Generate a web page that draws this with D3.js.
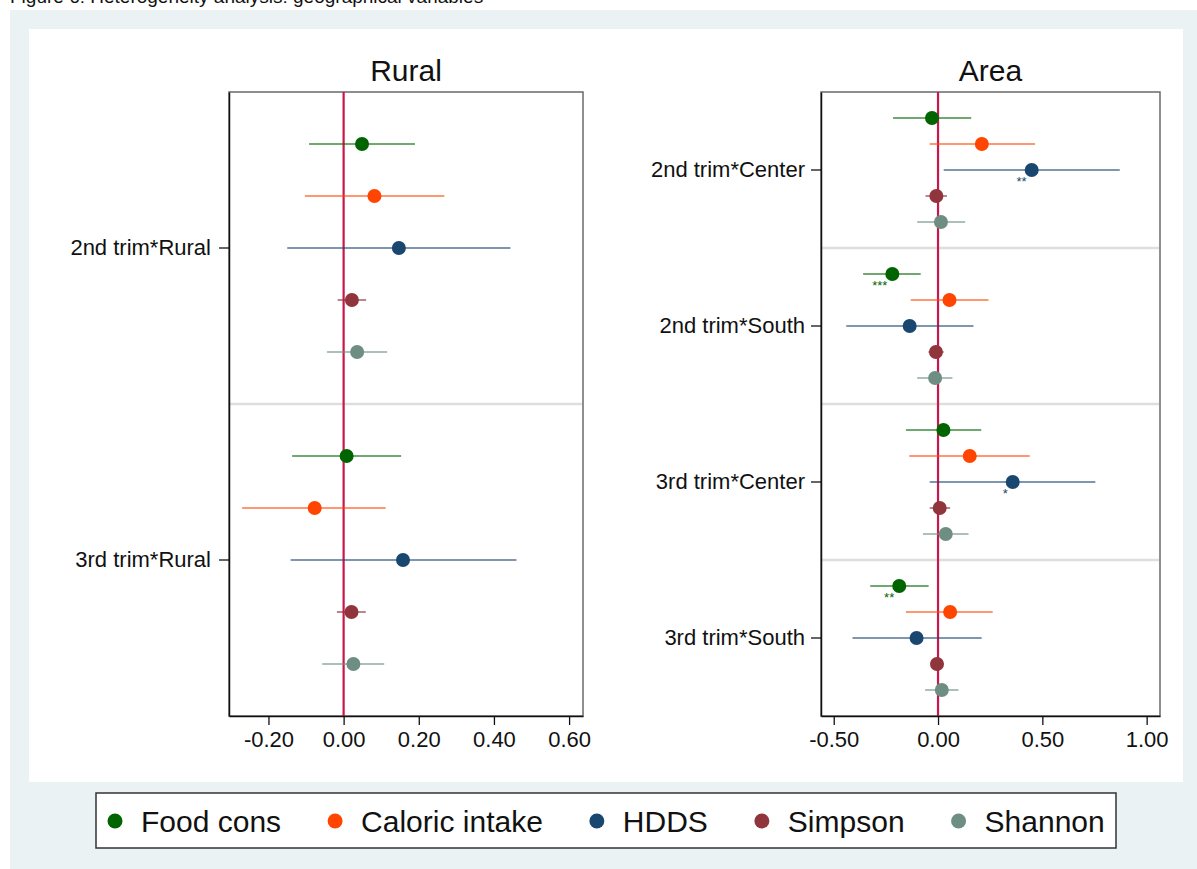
<!DOCTYPE html>
<html>
<head>
<meta charset="utf-8">
<script src="https://cdn.jsdelivr.net/npm/d3@7"></script>
<style>
  html, body { margin: 0; padding: 0; background: #fff; }
  svg { display: block; font-family: "Liberation Sans", Arial, sans-serif; }
</style>
</head>
<body>
<svg id="chart" width="1197" height="869"></svg>
<script>
// ---------- data ----------
const seriesNames = ["Food cons", "Caloric intake", "HDDS", "Simpson", "Shannon"];
const seriesColors = ["#006400", "#FF4500", "#1A476F", "#90353B", "#6E8E84"];

const ruralCats = ["2nd trim*Rural", "3rd trim*Rural"];
// rows: category, columns: series
const ruralCoef = [
  [0.049, 0.082, 0.147, 0.022, 0.036],
  [0.008, -0.077, 0.158, 0.021, 0.026]
];
const ruralLo = [
  [-0.092, -0.103, -0.150, -0.016, -0.044],
  [-0.137, -0.270, -0.141, -0.018, -0.057]
];
const ruralHi = [
  [0.190, 0.268, 0.444, 0.060, 0.116],
  [0.153, 0.112, 0.460, 0.059, 0.108]
];
const ruralStars = [
  ["", "", "", "", ""],
  ["", "", "", "", ""]
];

const areaCats = ["2nd trim*Center", "2nd trim*South", "3rd trim*Center", "3rd trim*South"];
const areaCoef = [
  [-0.029, 0.210, 0.449, -0.008, 0.014],
  [-0.219, 0.055, -0.136, -0.010, -0.014],
  [0.026, 0.152, 0.358, 0.008, 0.037],
  [-0.186, 0.058, -0.103, -0.005, 0.018]
];
const areaLo = [
  [-0.216, -0.040, 0.027, -0.060, -0.100],
  [-0.359, -0.131, -0.440, -0.046, -0.100],
  [-0.154, -0.138, -0.040, -0.040, -0.072],
  [-0.325, -0.154, -0.410, -0.035, -0.062]
];
const areaHi = [
  [0.159, 0.465, 0.871, 0.043, 0.130],
  [-0.083, 0.242, 0.170, 0.027, 0.069],
  [0.207, 0.440, 0.754, 0.058, 0.146],
  [-0.045, 0.262, 0.209, 0.027, 0.098]
];
const areaStars = [
  ["", "", "**", "", ""],
  ["***", "", "", "", ""],
  ["", "", "*", "", ""],
  ["**", "", "", "", ""]
];

const ruralTicks = [-0.2, 0, 0.2, 0.4, 0.6];
const areaTicks = [-0.5, 0, 0.5, 1.0];
const ruralDomain = [-0.305, 0.637];
const areaDomain = [-0.561, 1.064];

const captionText = "Figure 6: Heterogeneity analysis: geographical variables";

// ---------- drawing ----------
const svg = d3.select("#chart");
const FONT = '"Liberation Sans", Arial, sans-serif';

// outer background
svg.append("rect").attr("x", 10).attr("y", 10).attr("width", 1187).attr("height", 859).attr("fill", "#EAF2F3");
svg.append("rect").attr("x", 29).attr("y", 29).attr("width", 1154).attr("height", 753).attr("fill", "#ffffff");

// caption (cut off at top, as in the source)
svg.append("text").attr("x", 10).attr("y", 3).attr("font-size", 19).attr("fill", "#111")
  .text(captionText);

function panel(opts) {
  const { left, right, top, bottom, cats, coef, lo, hi, stars, ticks, domain, title, tickPad } = opts;
  const g = svg.append("g");
  const x = d3.scaleLinear().domain(domain).range([left, right]);
  const yBand = d3.scaleBand().domain(cats).range([top, bottom]).paddingInner(0).paddingOuter(0);
  const yInner = d3.scalePoint().domain(seriesNames).range([0, yBand.bandwidth()]).padding(1);

  // plot region border
  g.append("rect").attr("x", left).attr("y", top).attr("width", right - left).attr("height", bottom - top)
    .attr("fill", "#fff").attr("stroke", "#6a6a6a").attr("stroke-width", 1.5);

  // dividers between categories
  g.selectAll("line.div").data(cats.slice(1)).join("line")
    .attr("x1", left + 1).attr("x2", right - 1)
    .attr("y1", d => yBand(d)).attr("y2", d => yBand(d))
    .attr("stroke", "#dedede").attr("stroke-width", 2.5);

  // zero line
  g.append("line").attr("x1", x(0)).attr("x2", x(0)).attr("y1", top).attr("y2", bottom)
    .attr("stroke", "#C8174B").attr("stroke-width", 2.2);

  // rows
  const rows = [];
  cats.forEach((c, i) => {
    seriesNames.forEach((s, j) => {
      rows.push({ c, s, j, v: coef[i][j], lo: lo[i][j], hi: hi[i][j], star: stars[i][j] });
    });
  });
  const yOf = d => yBand(d.c) + yInner(d.s);

  g.selectAll("line.ci").data(rows).join("line")
    .attr("x1", d => x(d.lo)).attr("x2", d => x(d.hi))
    .attr("y1", yOf).attr("y2", yOf)
    .attr("stroke", d => seriesColors[d.j]).attr("stroke-opacity", 0.75).attr("stroke-width", 1.6);

  g.selectAll("circle.pt").data(rows).join("circle")
    .attr("cx", d => x(d.v)).attr("cy", yOf).attr("r", 7)
    .attr("fill", d => seriesColors[d.j]);

  g.selectAll("text.star").data(rows.filter(d => d.star)).join("text")
    .attr("x", d => x(d.v) - 5).attr("y", d => yOf(d) + 16)
    .attr("text-anchor", "end").attr("font-size", 13).attr("fill", d => seriesColors[d.j])
    .text(d => d.star);

  // x axis
  const xAxis = d3.axisBottom(x).tickValues(ticks).tickFormat(v => v.toFixed(2)).tickSize(9).tickPadding(6).tickSizeOuter(0);
  const xg = g.append("g").attr("transform", `translate(0,${bottom})`).call(xAxis);
  xg.select(".domain").attr("stroke", "#111").attr("stroke-width", 1.5);
  xg.selectAll(".tick line").attr("stroke", "#111").attr("stroke-width", 1.3);
  xg.selectAll(".tick text").attr("font-size", 22).attr("font-family", FONT).attr("fill", "#111");

  // y axis
  const yAxis = d3.axisLeft(yBand).tickSize(10).tickPadding(tickPad).tickSizeOuter(0);
  const yg = g.append("g").attr("transform", `translate(${left},0)`).call(yAxis);
  yg.select(".domain").attr("stroke", "#111").attr("stroke-width", 1.5);
  yg.selectAll(".tick line").attr("stroke", "#111").attr("stroke-width", 1.3);
  yg.selectAll(".tick text").attr("font-size", 22).attr("font-family", FONT).attr("fill", "#111");

  // title
  g.append("text").attr("x", (left + right) / 2).attr("y", 81).attr("text-anchor", "middle")
    .attr("font-size", 30).attr("fill", "#111").text(title);
}

panel({ left: 229, right: 583, top: 92, bottom: 716, cats: ruralCats, coef: ruralCoef, lo: ruralLo, hi: ruralHi,
        stars: ruralStars, ticks: ruralTicks, domain: ruralDomain, title: "Rural", tickPad: 8 });
panel({ left: 821, right: 1160, top: 92, bottom: 716, cats: areaCats, coef: areaCoef, lo: areaLo, hi: areaHi,
        stars: areaStars, ticks: areaTicks, domain: areaDomain, title: "Area", tickPad: 6 });

// legend
const lg = svg.append("g");
lg.append("rect").attr("x", 96).attr("y", 793).attr("width", 1020).attr("height", 55)
  .attr("fill", "#fff").attr("stroke", "#333").attr("stroke-width", 1.5);
let lx = 115;
seriesNames.forEach((s, j) => {
  lg.append("circle").attr("cx", lx).attr("cy", 821).attr("r", 7.5).attr("fill", seriesColors[j]);
  const t = lg.append("text").attr("x", lx + 26).attr("y", 831.5).attr("font-size", 30).attr("fill", "#111").text(s);
  lx = lx + 26 + t.node().getComputedTextLength() + 54;
});
</script>
</body>
</html>
